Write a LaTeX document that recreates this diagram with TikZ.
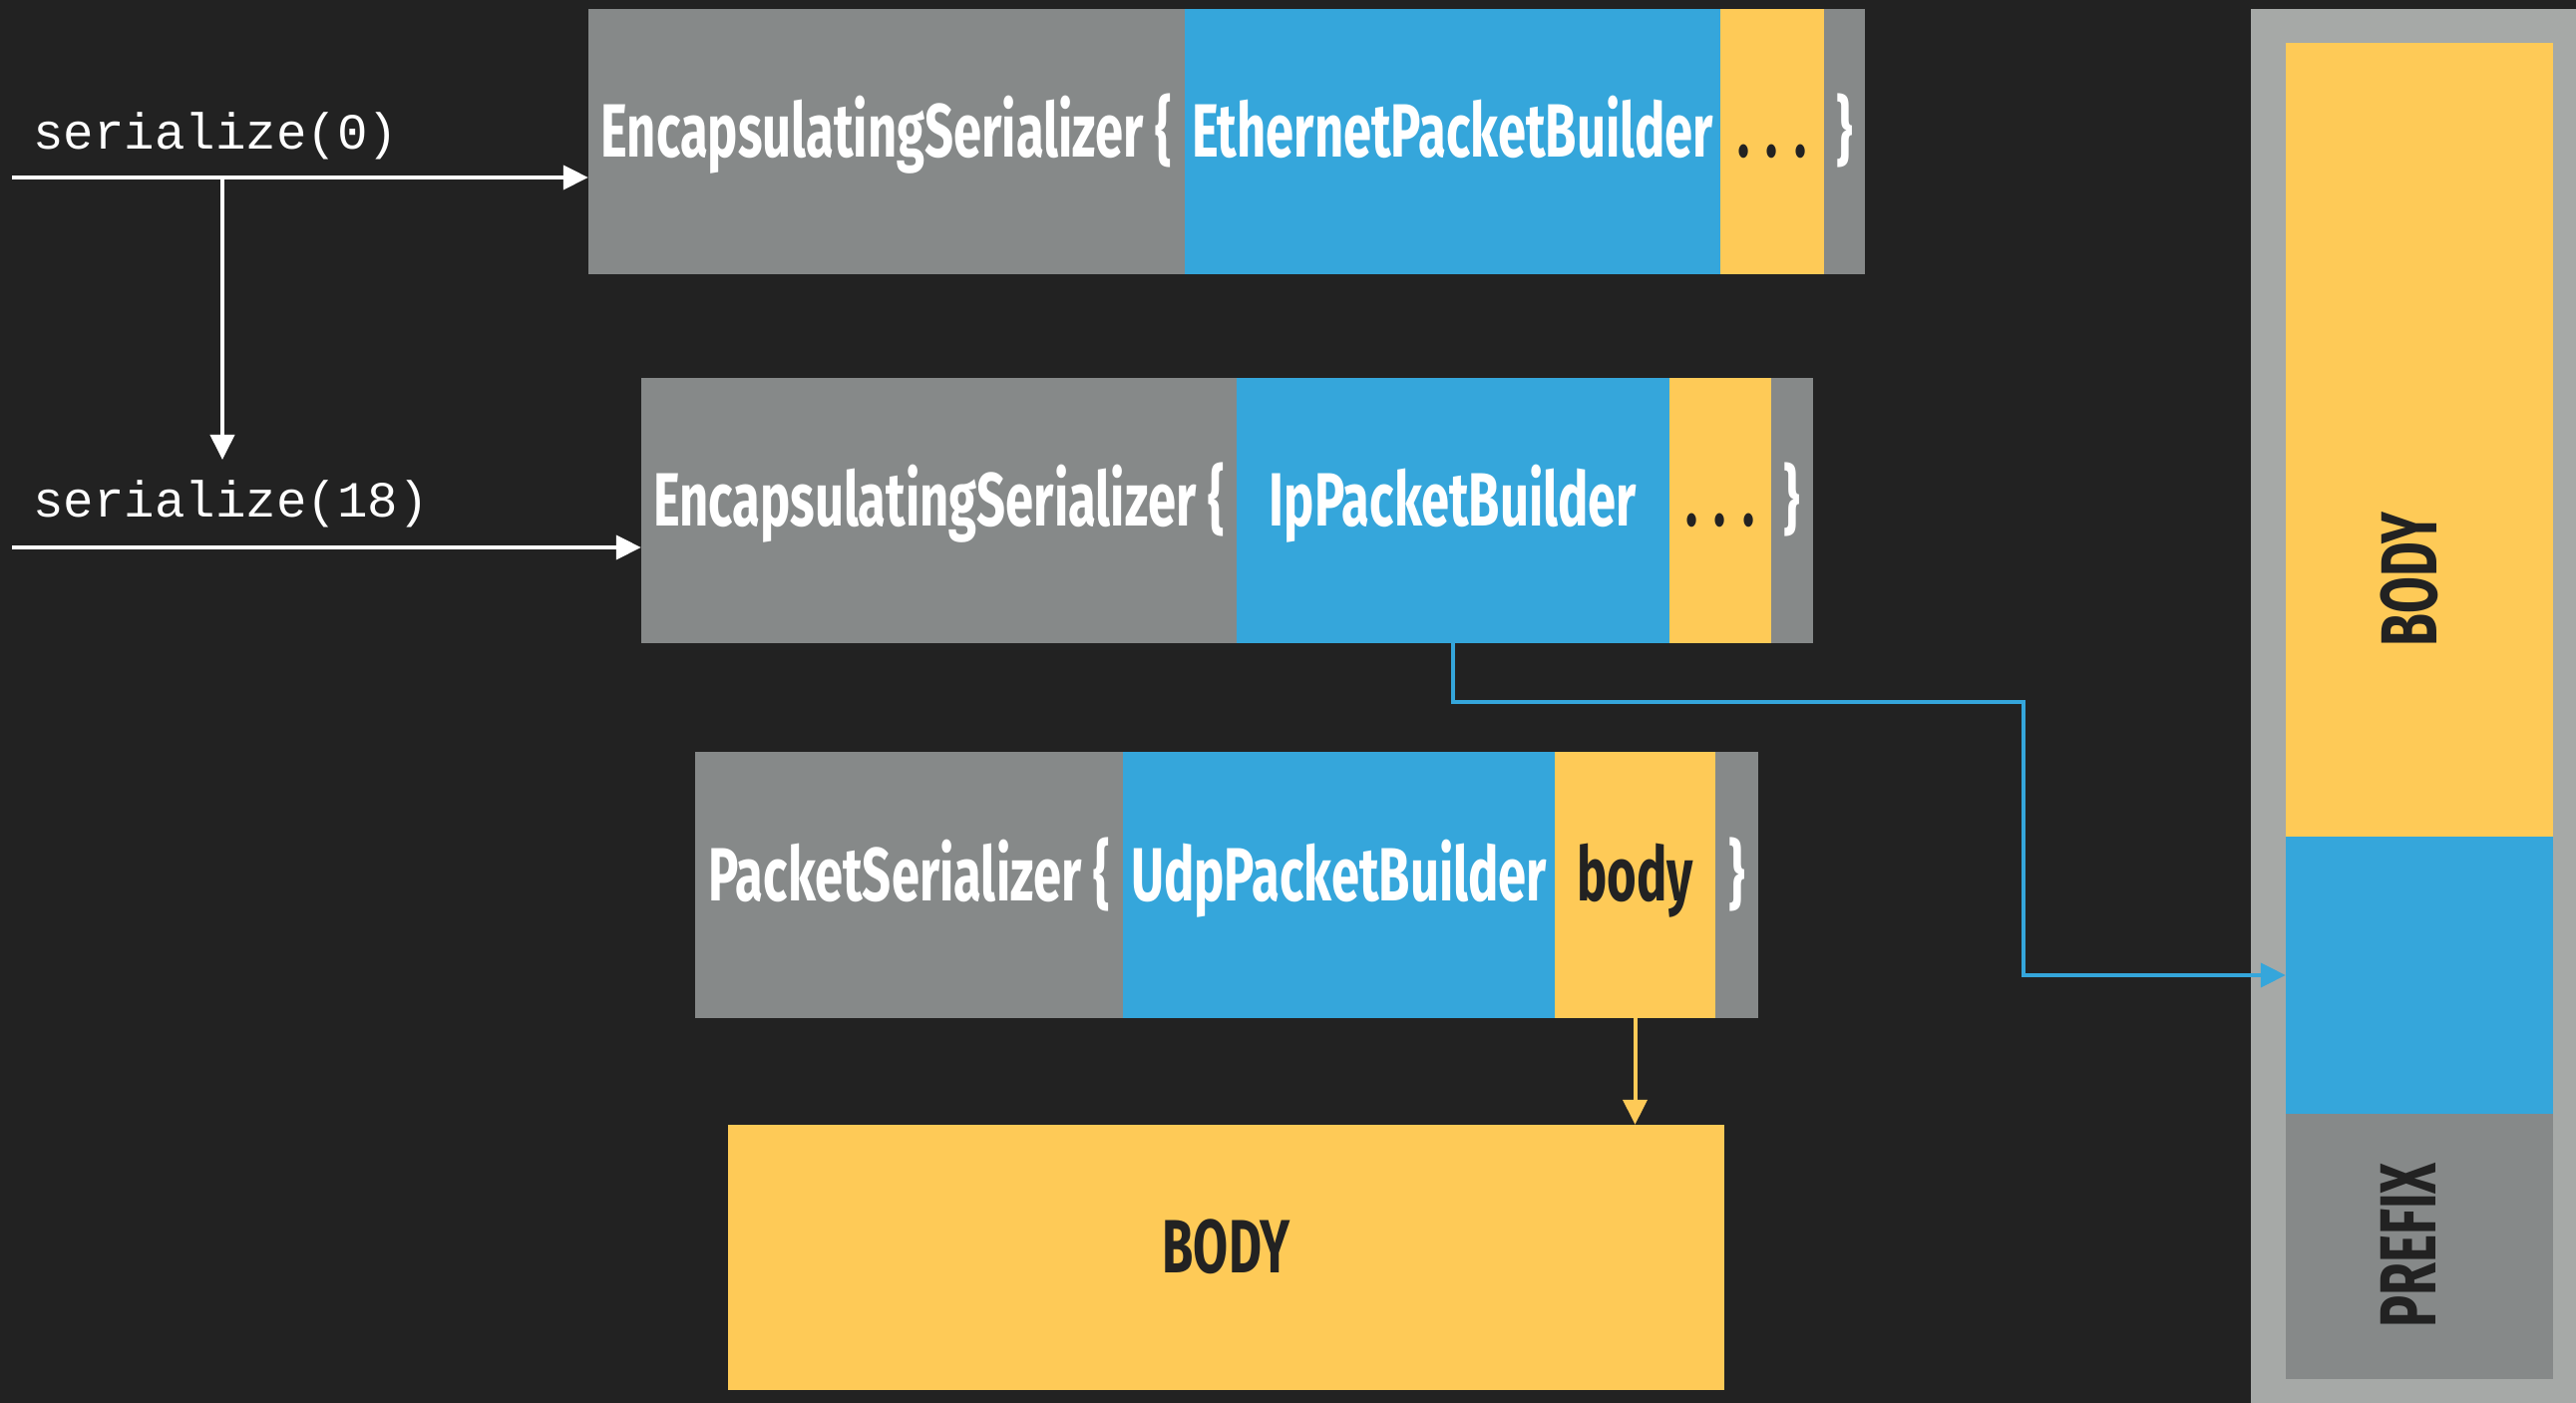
\documentclass[tikz,border=0pt]{standalone}
\usepackage{fontspec}
\usetikzlibrary{arrows.meta}
\newfontfamily\dinfont[FakeStretch=0.67]{Fira Sans}
\setmonofont{Liberation Mono}
\definecolor{bgdark}{HTML}{222222}
\definecolor{segGray}{HTML}{868989}
\definecolor{segBlue}{HTML}{35A6DB}
\definecolor{segYellow}{HTML}{FECA57}
\definecolor{panelGray}{HTML}{A6A9A7}
\definecolor{inkDark}{HTML}{222222}
\begin{document}
\begin{tikzpicture}[>={Triangle[length=25bp,width=24bp]},line join=miter,
  seg/.style={rectangle,inner sep=0pt,minimum height=266bp,text height=52bp,text depth=20bp,
    font=\dinfont\bfseries\fontsize{76}{80}\selectfont},
  grayseg/.style={seg,fill=segGray,text=white},
  blueseg/.style={seg,fill=segBlue,text=white},
  yellowseg/.style={seg,fill=segYellow,text=inkDark},
  call/.style={anchor=base west,inner sep=0pt,text=white,font=\ttfamily\fontsize{51}{60}\selectfont},
  tag/.style={rotate=90,inner sep=0pt,text depth=0pt,text=inkDark,font=\dinfont\bfseries\fontsize{80}{84}\selectfont},
  wire/.style={line width=4bp},
]
%%
\fill [bgdark] (0bp,0bp) rectangle (2583bp,1407bp);
\node (txt_ser0) at (33bp,1257bp) [call] {serialize(0)};
  \node (txt_ser18) at (33bp,888bp) [call] {serialize(18)};
  \node (enc_eth) at (889bp,1265bp) [grayseg,minimum width=598bp] {EncapsulatingSerializer \{};
  \node (eth_builder) at (1456.5bp,1265bp) [blueseg,minimum width=537bp] {EthernetPacketBuilder};
  \node (eth_rest) at (1777bp,1265bp) [yellowseg,minimum width=104bp] {. . .};
  \node (eth_close) at (1849.5bp,1265bp) [grayseg,minimum width=41bp] {\}};
  \node (enc_ip) at (941.5bp,895bp) [grayseg,minimum width=597bp] {EncapsulatingSerializer \{};
  \node (ip_builder) at (1457bp,895bp) [blueseg,minimum width=434bp] {IpPacketBuilder};
  \node (ip_rest) at (1725bp,895bp) [yellowseg,minimum width=102bp] {. . .};
  \node (ip_close) at (1797bp,895bp) [grayseg,minimum width=42bp] {\}};
  \node (pkt_udp) at (911.5bp,519.5bp) [grayseg,minimum width=429bp,minimum height=267bp] {PacketSerializer \{};
  \node (udp_builder) at (1342.5bp,519.5bp) [blueseg,minimum width=433bp,minimum height=267bp] {UdpPacketBuilder};
  \node (udp_body) at (1639.5bp,519.5bp) [yellowseg,minimum width=161bp,minimum height=267bp] {body};
  \node (udp_close) at (1741.5bp,519.5bp) [grayseg,minimum width=43bp,minimum height=267bp] {\}};
  \node (body_box) at (1229.5bp,146bp) [yellowseg,minimum width=999bp] {BODY};
  \node (panel) at (2420bp,699bp) [rectangle,inner sep=0pt,fill=panelGray,minimum width=326bp,minimum height=1398bp] {};
  \node (panel_body) at (2426bp,966bp) [rectangle,inner sep=0pt,fill=segYellow,minimum width=268bp,minimum height=796bp] {};
  \node (panel_ip) at (2426bp,429bp) [rectangle,inner sep=0pt,fill=segBlue,minimum width=268bp,minimum height=278bp] {};
  \node (panel_prefix) at (2426bp,157bp) [rectangle,inner sep=0pt,fill=segGray,minimum width=268bp,minimum height=266bp] {};
  \node (label_body) at (2415bp,826bp) [tag] {BODY};
  \node (label_prefix) at (2415bp,158bp) [tag] {PREFIX};
  \coordinate (in_0) at (12bp,1229bp);
  \coordinate (split_0) at (223bp,1229bp);
  \coordinate (drop_0) at (223bp,946bp);
  \coordinate (in_18) at (12bp,858bp);
  \coordinate (bend_ip) at (2029bp,703bp);
  \draw [white,wire,->] (in_0) -- (in_0 -| enc_eth.west);
  \draw [white,wire,->] (split_0) -- (drop_0);
  \draw [white,wire,->] (in_18) -- (in_18 -| enc_ip.west);
  \draw [segBlue,wire,->] (ip_builder.south) |- (bend_ip) |- (panel_ip.west);
  \draw [segYellow,wire,->] (udp_body.south) -- (udp_body.south |- body_box.north);
%
\end{tikzpicture}
\end{document}
